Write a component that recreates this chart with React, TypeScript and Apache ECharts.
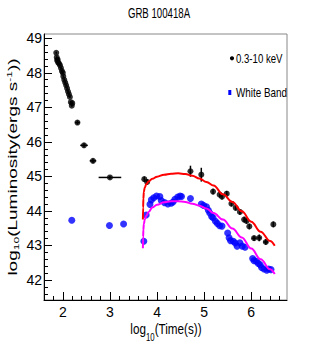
import React, { useEffect, useRef } from 'react';
import * as echarts from 'echarts';

const xrtX = [1.86, 1.87, 1.88, 1.89, 1.90, 1.92, 1.94, 1.96, 1.98, 2.00, 2.01, 2.03, 2.05, 2.07, 2.09, 2.11, 2.13, 2.15, 2.17, 2.19, 2.20,
  2.31, 2.45, 2.64, 3.00,
  3.73, 3.79, 4.71, 4.94, 5.19, 5.33, 5.38, 5.48, 5.58, 5.67, 5.76, 5.85, 5.90, 5.96, 6.06, 6.17, 6.31, 6.47];
const xrtY = [48.58, 48.45, 48.36, 48.38, 48.30, 48.27, 48.22, 48.14, 48.05, 48.00, 47.90, 47.80, 47.72, 47.64, 47.55, 47.46, 47.38, 47.30, 47.15, 47.05, 47.12,
  46.56, 45.90, 45.45, 44.97,
  44.92, 44.84, 45.15, 45.05, 44.56, 44.47, 44.41, 44.50, 44.21, 44.09, 43.97, 43.75, 43.71, 43.55, 43.21, 43.22, 43.10, 43.61];
const xrtXErr = [0, 0, 0, 0, 0, 0, 0, 0, 0, 0, 0, 0, 0, 0, 0, 0, 0, 0, 0, 0, 0,
  0.05, 0.08, 0.07, 0.24,
  0.01, 0.01, 0.01, 0.01, 0.01, 0.01, 0.01, 0.01, 0.01, 0.01, 0.01, 0.01, 0.01, 0.01, 0.04, 0.04, 0.05, 0.01];
const xrtYErr = [0.03, 0.03, 0.03, 0.03, 0.03, 0.03, 0.03, 0.03, 0.03, 0.03, 0.03, 0.03, 0.03, 0.03, 0.03, 0.03, 0.03, 0.03, 0.03, 0.03, 0.03,
  0.06, 0.06, 0.06, 0.05,
  0.08, 0.08, 0.16, 0.2, 0.08, 0.08, 0.08, 0.08, 0.08, 0.08, 0.08, 0.08, 0.08, 0.08, 0.08, 0.1, 0.08, 0.08];

const uvX = [2.19, 2.99, 3.29, 3.72, 3.77, 3.85, 3.88, 3.93, 3.99, 4.06, 4.09, 4.16, 4.23, 4.30, 4.34, 4.38, 4.44, 4.49, 4.52, 4.71,
  4.94, 4.99, 5.05, 5.09, 5.12, 5.16, 5.19, 5.24, 5.28, 5.33, 5.38, 5.50, 5.53, 5.56, 5.62, 5.66, 5.70, 5.76, 5.81, 5.87,
  6.03, 6.06, 6.11, 6.15, 6.19, 6.22, 6.27, 6.33, 6.37, 6.42];
const uvY = [43.73, 43.58, 43.62, 43.12, 43.88, 44.19, 44.32, 44.38, 44.43, 44.42, 44.30, 44.24, 44.20, 44.22, 44.26, 44.34, 44.40, 44.43, 44.42, 44.36,
  44.20, 44.16, 44.12, 44.02, 43.94, 43.84, 43.80, 43.70, 43.64, 43.57, 43.56, 43.36, 43.22, 43.14, 43.12, 43.07, 42.98, 43.08, 42.98, 42.95,
  42.62, 42.56, 42.54, 42.48, 42.44, 42.36, 42.32, 42.28, 42.32, 42.30];

const fitX = [3.70, 3.705, 3.71, 3.72, 3.74, 3.77, 3.82, 3.90, 4.00, 4.15, 4.30, 4.45, 4.60, 4.75, 4.90, 5.05, 5.20, 5.40, 5.60, 5.80, 6.00, 6.20, 6.40, 6.50];
const xrtFitY = [43.75, 44.10, 44.35, 44.55, 44.68, 44.77, 44.85, 44.93, 44.99, 45.05, 45.08, 45.09, 45.07, 45.02, 44.94, 44.84, 44.74, 44.48, 44.26, 43.99, 43.69, 43.40, 43.13, 42.99];
const uvFitY = [42.92, 43.25, 43.45, 43.62, 43.75, 43.85, 43.97, 44.10, 44.18, 44.25, 44.28, 44.28, 44.26, 44.21, 44.15, 44.07, 43.94, 43.75, 43.49, 43.23, 42.91, 42.60, 42.31, 42.17];

const xMajor = [2, 3, 4, 5, 6];
const yMajor = [42, 43, 44, 45, 46, 47, 48, 49];
const xMinor = [1.8, 2.2, 2.4, 2.6, 2.8, 3.2, 3.4, 3.6, 3.8, 4.2, 4.4, 4.6, 4.8, 5.2, 5.4, 5.6, 5.8, 6.2, 6.4, 6.6];
const yMinor = [41.6, 41.8, 42.2, 42.4, 42.6, 42.8, 43.2, 43.4, 43.6, 43.8, 44.2, 44.4, 44.6, 44.8, 45.2, 45.4, 45.6, 45.8,
  46.2, 46.4, 46.6, 46.8, 47.2, 47.4, 47.6, 47.8, 48.2, 48.4, 48.6, 48.8];

const legendNames = ['0.3-10 keV', 'White Band'];

const NARROW = '"Liberation Sans Narrow", "Liberation Sans", Arial, sans-serif';
const SANS = '"Liberation Sans", Arial, sans-serif';

const X_MIN = 1.6, X_MAX = 6.76, Y_MIN = 41.42, Y_MAX = 49.125;

function baseX(extra: any) {
  return Object.assign({
    type: 'value', min: X_MIN, max: X_MAX, position: 'bottom',
    splitLine: { show: false },
  }, extra);
}
function baseY(extra: any) {
  return Object.assign({
    type: 'value', min: Y_MIN, max: Y_MAX, position: 'left',
    splitLine: { show: false },
  }, extra);
}

export default function App() {
  const ref = useRef<HTMLDivElement>(null);
  useEffect(() => {
    const chart = echarts.init(ref.current!, null, { renderer: 'svg' });
    const option: any = {
      animation: false,
      backgroundColor: '#fff',
      grid: { left: 44, right: 32, top: 34, bottom: 54, show: true, borderColor: '#888', borderWidth: 1 },
      xAxis: [
        baseX({
          axisLine: { show: true, onZero: false, lineStyle: { color: '#000', width: 1 } },
          axisTick: { show: true, inside: true, length: 8, customValues: xMajor, lineStyle: { color: '#000' } },
          axisLabel: { customValues: xMajor, margin: 5, fontSize: 14, fontFamily: NARROW, color: '#000' },
        }),
        baseX({
          axisLine: { show: false, onZero: false },
          axisTick: { show: true, inside: true, length: 4, customValues: xMinor, lineStyle: { color: '#000' } },
          axisLabel: { show: false },
        }),
      ],
      yAxis: [
        baseY({
          axisLine: { show: true, onZero: false, lineStyle: { color: '#000', width: 1 } },
          axisTick: { show: true, inside: true, length: 8, customValues: yMajor, lineStyle: { color: '#000' } },
          axisLabel: { customValues: yMajor, margin: 2, fontSize: 14, fontFamily: NARROW, color: '#000' },
        }),
        baseY({
          axisLine: { show: false, onZero: false },
          axisTick: { show: true, inside: true, length: 4, customValues: yMinor, lineStyle: { color: '#000' } },
          axisLabel: { show: false },
        }),
      ],
      graphic: [
        {
          type: 'text', x: 159, y: 13, scaleX: 0.69,
          style: { text: 'GRB 100418A', fontSize: 14, fontFamily: SANS, fill: '#000', align: 'center', verticalAlign: 'middle' },
        },
        { type: 'circle', shape: { cx: 232, cy: 58.3, r: 2.1 }, style: { fill: '#000' } },
        {
          type: 'text', x: 236, y: 58.3, scaleX: 0.74,
          style: { text: legendNames[0], fontSize: 13, fontFamily: SANS, fill: '#000', align: 'left', verticalAlign: 'middle' },
        },
        { type: 'rect', shape: { x: 228.3, y: 90, width: 3, height: 5 }, style: { fill: '#0000ff' } },
        {
          type: 'text', x: 236, y: 92.5, scaleX: 0.76,
          style: { text: legendNames[1], fontSize: 13, fontFamily: SANS, fill: '#000', align: 'left', verticalAlign: 'middle' },
        },
        {
          type: 'text', x: 166, y: 329, scaleX: 0.78,
          style: {
            text: '{a|log}{s|10}{a|(Time(s))}', fill: '#000', align: 'center', verticalAlign: 'middle',
            rich: {
              a: { fontSize: 15, fontFamily: SANS, lineHeight: 28, fill: '#000' },
              s: { fontSize: 10, fontFamily: SANS, lineHeight: 10, verticalAlign: 'bottom', fill: '#000' },
            },
          },
        },
        {
          type: 'text', x: 13, y: 167, rotation: Math.PI / 2, scaleY: 0.63,
          style: {
            text: '{a|log}{s|10}{a|(Luminosity(ergs s}{p|-1}{a|))}', fill: '#000', align: 'center', verticalAlign: 'middle',
            rich: {
              a: { fontSize: 19, fontFamily: SANS, lineHeight: 24, fill: '#000' },
              s: { fontSize: 12, fontFamily: SANS, lineHeight: 10, verticalAlign: 'bottom', fill: '#000' },
              p: { fontSize: 12, fontFamily: SANS, lineHeight: 10, verticalAlign: 'top', fill: '#000' },
            },
          },
        },
      ],
      series: [
        {
          type: 'custom',
          name: 'xrt-err',
          silent: true,
          data: xrtX.map((x, i) => [x, xrtY[i], xrtXErr[i], xrtYErr[i]]),
          encode: { x: 0, y: 1 },
          renderItem: (params: any, api: any) => {
            const x = api.value(0), y = api.value(1), xe = api.value(2), ye = api.value(3);
            const l = api.coord([x - xe, y]);
            const r = api.coord([x + xe, y]);
            const t = api.coord([x, y + ye]);
            const b = api.coord([x, y - ye]);
            return {
              type: 'group',
              children: [
                { type: 'line', shape: { x1: l[0], y1: l[1], x2: r[0], y2: r[1] }, style: { stroke: '#000', lineWidth: 1.5 } },
                { type: 'line', shape: { x1: t[0], y1: t[1], x2: b[0], y2: b[1] }, style: { stroke: '#000', lineWidth: 1.5 } },
              ],
            };
          },
        },
        {
          type: 'scatter', name: legendNames[0], symbol: 'circle', symbolSize: 6,
          itemStyle: { color: '#000' },
          data: xrtX.map((x, i) => [x, xrtY[i]]),
        },
        {
          type: 'scatter', name: legendNames[1], symbol: 'circle', symbolSize: 7,
          itemStyle: { color: '#0000ff' },
          data: uvX.map((x, i) => [x, uvY[i]]),
        },
        {
          type: 'line', name: 'fit-xrt', showSymbol: false, symbol: 'none', smooth: 0.4, smoothMonotone: 'x',
          lineStyle: { color: '#ff0000', width: 2 }, itemStyle: { color: '#ff0000' },
          data: fitX.map((x, i) => [x, xrtFitY[i]]),
        },
        {
          type: 'line', name: 'fit-uv', showSymbol: false, symbol: 'none', smooth: 0.4, smoothMonotone: 'x',
          lineStyle: { color: '#ff00ff', width: 2 }, itemStyle: { color: '#ff00ff' },
          data: fitX.map((x, i) => [x, uvFitY[i]]),
        },
      ],
    };
    chart.setOption(option);
    return () => chart.dispose();
  }, []);
  return <div ref={ref} style={{ position: 'fixed', left: 0, top: 0, width: 319, height: 354 }} />;
}
